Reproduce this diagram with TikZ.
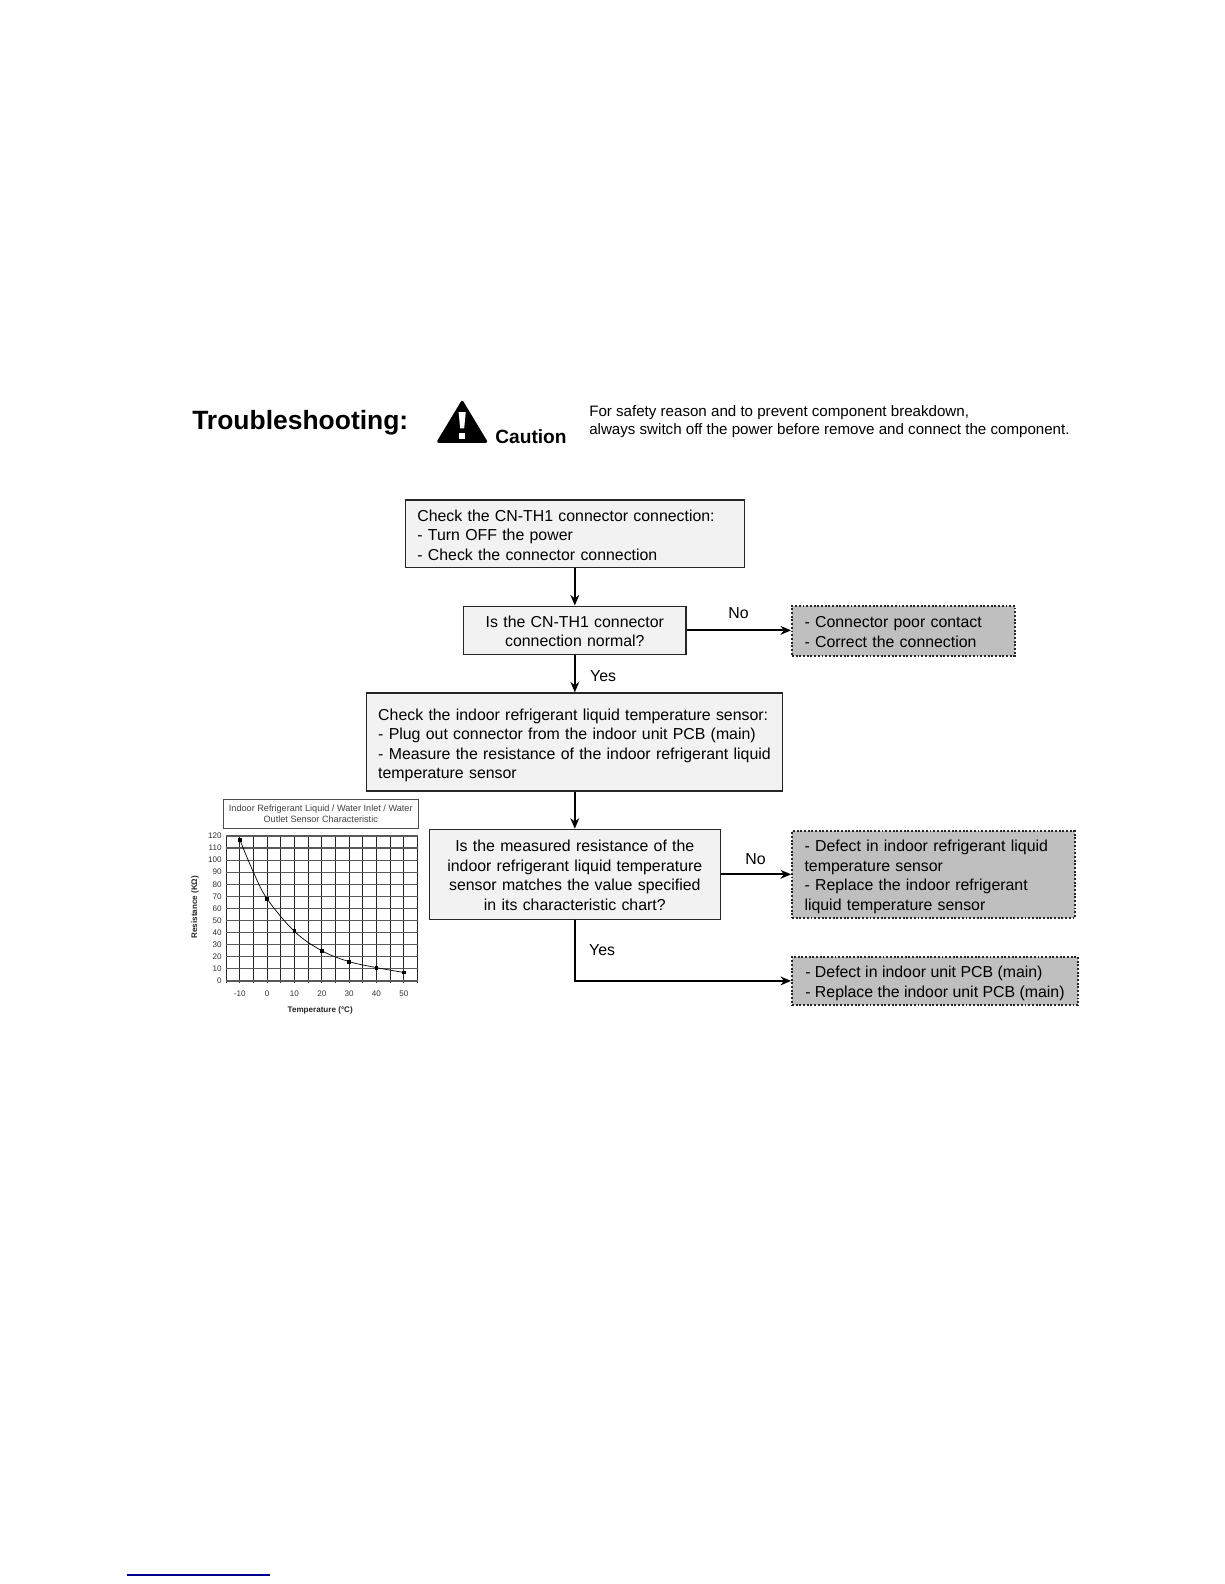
\documentclass[tikz,border=0pt]{standalone}
\usepackage{fontspec}
\setmainfont{Liberation Sans}
\usetikzlibrary{arrows.meta}

\begin{document}
\begin{tikzpicture}[x=0.020198cm,y=-0.020198cm,>={Stealth[length=6pt,width=5pt]},
                    flow/.style={line width=1pt,->},
                    lab/.style={font=\fontsize{9.03}{11.1}\selectfont,inner sep=0pt},
                    box/.style={draw=black!85,line width=0.7pt,fill=black!5,inner xsep=0.245cm,inner ysep=0pt,
                      font=\fontsize{9.03}{11.1}\selectfont},
                    result/.style={draw=black!85,densely dotted,line width=1.1pt,fill=black!25,inner xsep=0.1cm,inner ysep=0pt,
                      align=left,font=\fontsize{9.03}{11.1}\selectfont},
                    ticklab/.style={font=\fontsize{4.6}{5.5}\selectfont,inner sep=0pt,black!80},
                    datapt/.style={fill=black,inner sep=0pt,minimum size=2.2pt}]
  \useasboundingbox (0,0) rectangle (1212,1568);
  % heading
  \node[anchor=west,inner sep=0pt,font=\bfseries\fontsize{15.05}{18}\selectfont] (title) at (190,418) {Troubleshooting:};
  \fill[black,line join=round,draw=black,line width=1.5pt] (457.5,398) -- (481,437) -- (434,437) -- cycle;
  \fill[white] (454,408) -- (461,408) -- (459.5,424) -- (455.5,424) -- cycle;
  \fill[white] (454.8,429) rectangle (460.2,435);
  \node[anchor=west,inner sep=0pt,font=\bfseries\fontsize{10.9}{12}\selectfont] (caution) at (490,432) {Caution};
  \node[anchor=west,inner sep=0pt,align=left,font=\fontsize{8.6}{10.4}\selectfont] (safety) at (583,417.5)
    {For safety reason and to prevent component breakdown,\\always switch off the power before remove and connect the component.};
  % flow chart, the struts bring the text down to where it sits in the box
  \node[box,align=left,text width=6.297cm,minimum height=1.353cm] (chk) at (569,528.5)
    {\rule{0pt}{8pt}Check the CN-TH1 connector connection:\\- Turn OFF the power\\- Check the connector connection};
  \node[box,align=center,text width=3.954cm,minimum height=0.97cm] (qa) at (569,624)
    {\rule{0pt}{7.6pt}Is the CN-TH1 connector\\connection normal?};
  \node[box,align=left,inner xsep=0.23cm,text width=7.862cm,minimum height=1.96cm] (sensor) at (569,734.5)
    {\rule{0pt}{10.6pt}Check the indoor refrigerant liquid temperature sensor:\\- Plug out connector from the indoor unit PCB (main)\\- Measure the resistance of the indoor refrigerant liquid\\temperature sensor};
  \node[box,align=center,text width=5.327cm,minimum height=1.8cm] (qb) at (569,865.5)
    {\rule{0pt}{7.6pt}Is the measured resistance of the\\indoor refrigerant liquid temperature\\sensor matches the value specified\\in its characteristic chart?};
  \node[result,inner xsep=0.25cm,text width=3.964cm,minimum height=0.99cm] (ra) at (894.5,624.5)
    {\rule{0pt}{7.4pt}- Connector poor contact\\- Correct the connection};
  \node[result,inner xsep=0.25cm,text width=5.155cm,minimum height=1.737cm] (rb) at (924,866)
    {\rule{0pt}{8.6pt}- Defect in indoor refrigerant liquid\\temperature sensor\\- Replace the indoor refrigerant\\liquid temperature sensor};
  \node[result,minimum width=5.716cm,minimum height=0.97cm] (rc) at (925.5,971)
    {\rule{0pt}{9.4pt}- Defect in indoor unit PCB (main)\\- Replace the indoor unit PCB (main)};
  \draw[flow] (chk) -- (qa);
  \draw[flow] (qa) -- (sensor);
  \draw[flow] (sensor) -- (qb);
  \draw[flow] (qa.east) -- (qa.east-|ra.west);
  \draw[flow] (qb.east) -- (qb.east-|rb.west);
  \draw[flow] (qb.south) |- (rc.west);
  \node[lab] (noa) at (731,607) {No};
  \node[lab] (yesa) at (597,669) {Yes};
  \node[lab] (nob) at (748,850) {No};
  \node[lab] (yesb) at (596,941) {Yes};
  % sensor chart
  \node[draw=black!70,line width=0.5pt,minimum width=3.9cm,minimum height=0.586cm,inner sep=0pt,align=center,
        font=\fontsize{5.2}{6.6}\selectfont,text=black!75] (charttitle) at (317.5,805.5)
    {Indoor Refrigerant Liquid / Water Inlet / Water\\Outlet Sensor Characteristic};
  \begin{scope}[shift={(264.4,971)},x=0.05468cm,y=0.02416cm]
    \foreach \t in {-15,-10,...,55} \draw[black!85,line width=0.55pt] (\t,-1.5) -- (\t,120);
    \foreach \v in {0,10,...,120} {
      \draw[black!65,line width=0.7pt] (-15,\v) -- (55,\v);
      \node[ticklab,anchor=east] at (-16.5,\v) {\v};
    }
    \foreach \t in {-10,0,...,50} \node[ticklab] at (\t,-10.5) {\t};
    \draw[black,line width=0.4pt] plot[smooth,tension=0.6] coordinates {(-10,117) (-5,90) (0,68) (10,41) (20,25) (30,16) (40,11) (50,7)};
    \foreach \t/\v in {-10/117,0/68,10/41,20/25,30/16,40/11,50/7} \node[datapt] at (\t,\v) {};
  \end{scope}
  \node[inner sep=0pt,rotate=90,font=\bfseries\fontsize{4.6}{5.5}\selectfont,text=black!85] (ylab) at (193,898) {Resistance (KΩ)};
  \node[inner sep=0pt,font=\bfseries\fontsize{4.6}{5.5}\selectfont,text=black!85] (xlab) at (317,1000) {Temperature (°C)};
  % rule at the foot of the page
  \draw[blue!55!black,line width=0.7pt] (126,1559) -- (267,1559);
\end{tikzpicture}
\end{document}
